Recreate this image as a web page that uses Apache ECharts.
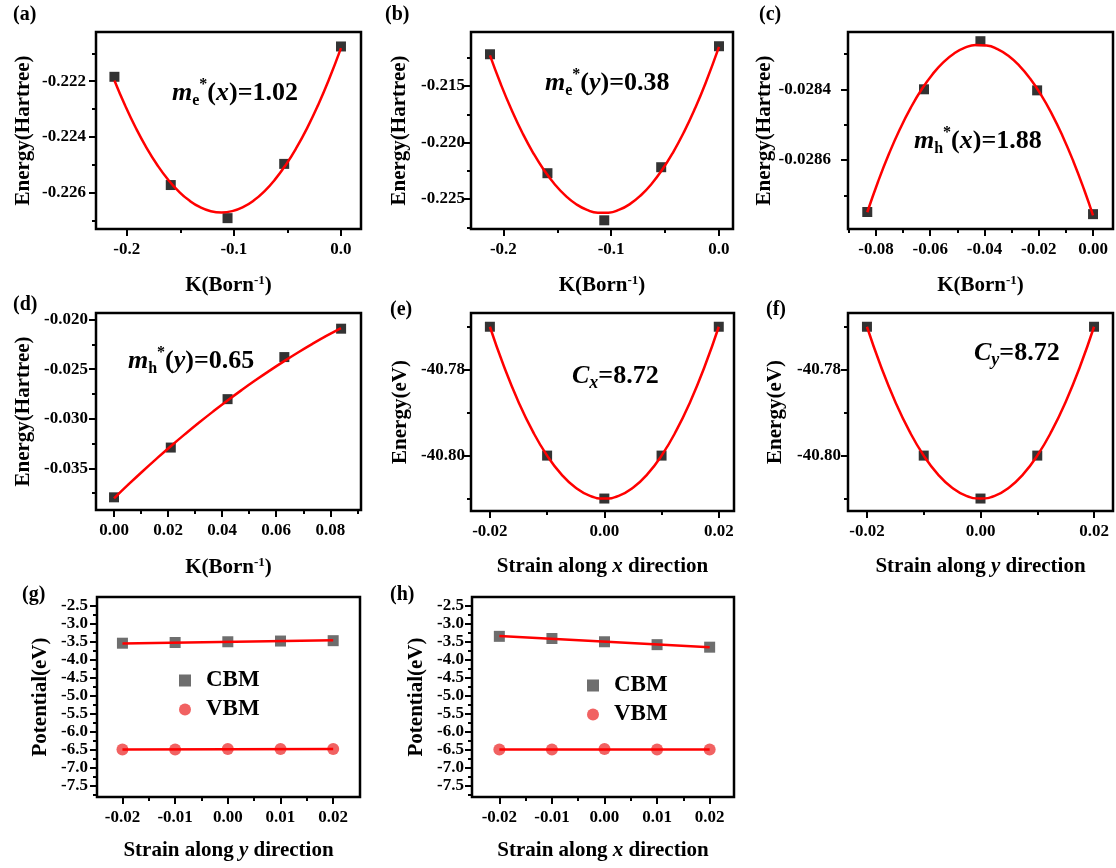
<!DOCTYPE html>
<html>
<head>
<meta charset="utf-8">
<script src="https://cdn.jsdelivr.net/npm/echarts@6/dist/echarts.min.js"></script>
<style>
  html, body { margin: 0; padding: 0; background: #fff; }
  #chart { width: 1116px; height: 868px; }
</style>
</head>
<body>
<div id="chart"></div>
<script>
var FONT = '"Liberation Serif", "Times New Roman", serif';

// (a) electron, x direction
var kA = [-0.2115, -0.1589, -0.1059, -0.0530, 0];
var eA = [-0.22184, -0.22573, -0.22692, -0.22497, -0.22075];
var fitKA = [-0.2115, -0.2015, -0.1915, -0.1815, -0.1715, -0.1615, -0.1515, -0.1415, -0.1315, -0.1215, -0.1115,
  -0.1015, -0.0915, -0.0815, -0.0715, -0.0615, -0.0515, -0.0415, -0.0315, -0.0215, -0.0115, 0];
var fitEA = [-0.221970, -0.222872, -0.223679, -0.224391, -0.225008, -0.225530, -0.225957, -0.226289, -0.226527, -0.226669, -0.226716,
  -0.226668, -0.226525, -0.226288, -0.225955, -0.225527, -0.225005, -0.224387, -0.223674, -0.222867, -0.221964, -0.220809];

// (b) electron, y direction
var kB = [-0.2124, -0.1591, -0.1064, -0.0536, 0];
var eB = [-0.21218, -0.22271, -0.22688, -0.22218, -0.21147];
var fitKB = [-0.2124, -0.2024, -0.1924, -0.1824, -0.1724, -0.1624, -0.1524, -0.1424, -0.1324, -0.1224, -0.1124,
  -0.1024, -0.0924, -0.0824, -0.0724, -0.0624, -0.0524, -0.0424, -0.0324, -0.0224, -0.0124, 0];
var fitEB = [-0.212282, -0.214818, -0.217099, -0.219127, -0.220900, -0.222420, -0.223685, -0.224697, -0.225454, -0.225957, -0.226206,
  -0.226201, -0.225942, -0.225428, -0.224661, -0.223640, -0.222364, -0.220834, -0.219051, -0.217013, -0.214721, -0.211526];

// (c) hole, x direction
var kC = [-0.0832, -0.0623, -0.0415, -0.0206, 0];
var eC = [-0.028747, -0.028400, -0.028264, -0.028403, -0.028753];
var fitKC = [-0.0832, -0.0792, -0.0752, -0.0712, -0.0672, -0.0632, -0.0592, -0.0552, -0.0512, -0.0472, -0.0432,
  -0.0392, -0.0352, -0.0312, -0.0272, -0.0232, -0.0192, -0.0152, -0.0112, -0.0072, -0.0032, 0];
var fitEC = [-0.0287476, -0.0286606, -0.0285824, -0.0285130, -0.0284525, -0.0284007, -0.0283579, -0.0283238, -0.0282986, -0.0282823, -0.0282748,
  -0.0282761, -0.0282862, -0.0283052, -0.0283330, -0.0283696, -0.0284151, -0.0284694, -0.0285326, -0.0286046, -0.0286854, -0.0287564];

// (d) hole, y direction
var kD = [0, 0.0210, 0.0420, 0.0630, 0.0840];
var eD = [-0.037933, -0.032910, -0.028022, -0.023775, -0.020910];
var fitKD = [0, 0.005247, 0.010494, 0.015741, 0.020988, 0.026234, 0.031481, 0.036728, 0.041975,
  0.047222, 0.052469, 0.057716, 0.062963, 0.068209, 0.073456, 0.078703, 0.083950];
var fitED = [-0.038034, -0.036659, -0.035323, -0.034030, -0.032775, -0.031561, -0.030386, -0.029252, -0.028157,
  -0.027103, -0.026089, -0.025114, -0.024180, -0.023285, -0.022431, -0.021617, -0.020843];

// (e), (f) total energy vs strain
var strain = [-0.02, -0.01, 0, 0.01, 0.02];
var energyX = [-40.770, -40.800, -40.810, -40.800, -40.770];
var energyY = [-40.770, -40.800, -40.810, -40.800, -40.770];
var fitStrain = [-0.02, -0.0175, -0.015, -0.0125, -0.01, -0.0075, -0.005, -0.0025, 0,
  0.0025, 0.005, 0.0075, 0.01, 0.0125, 0.015, 0.0175, 0.02];
var fitEnergyX = [-40.770, -40.779375, -40.7875, -40.794375, -40.800, -40.804375, -40.8075, -40.809375, -40.810,
  -40.809375, -40.8075, -40.804375, -40.800, -40.794375, -40.7875, -40.779375, -40.770];
var fitEnergyY = [-40.770, -40.779375, -40.7875, -40.794375, -40.800, -40.804375, -40.8075, -40.809375, -40.810,
  -40.809375, -40.8075, -40.804375, -40.800, -40.794375, -40.7875, -40.779375, -40.770];

// (g), (h) band edges vs strain
var cbmG = [-3.55, -3.53, -3.51, -3.49, -3.48];
var vbmG = [-6.50, -6.50, -6.48, -6.48, -6.48];
var cbmH = [-3.36, -3.42, -3.51, -3.59, -3.66];
var vbmH = [-6.50, -6.50, -6.48, -6.50, -6.50];
var fitStrainLin = [-0.02, 0.02];
var cbmFitG = [-3.56, -3.47];
var vbmFitG = [-6.50, -6.48];
var cbmFitH = [-3.35, -3.66];
var vbmFitH = [-6.50, -6.50];

// tick labels
var tickKab = [-0.2, -0.1, 0];
var minorKab = [-0.15, -0.05];
var tickEa = [-0.226, -0.224, -0.222];
var minorEa = [-0.227, -0.225, -0.223, -0.221];
var tickEb = [-0.225, -0.220, -0.215];
var minorEb = [-0.2275, -0.2225, -0.2175, -0.2125];
var tickKc = [-0.08, -0.06, -0.04, -0.02, 0];
var minorKc = [-0.09, -0.07, -0.05, -0.03, -0.01];
var tickEc = [-0.0286, -0.0284];
var minorEc = [-0.0287, -0.0285, -0.0283];
var tickKd = [0, 0.02, 0.04, 0.06, 0.08];
var minorKd = [0.01, 0.03, 0.05, 0.07, 0.09];
var tickEd = [-0.035, -0.030, -0.025, -0.020];
var minorEd = [-0.0375, -0.0325, -0.0275, -0.0225];
var tickStrainEF = [-0.02, 0, 0.02];
var minorStrainEF = [-0.01, 0.01];
var tickEef = [-40.80, -40.78];
var minorEef = [-40.81, -40.79, -40.77];
var tickStrainGH = [-0.02, -0.01, 0, 0.01, 0.02];
var minorStrainGH = [-0.015, -0.005, 0.005, 0.015];
var tickPot = [-7.5, -7.0, -6.5, -6.0, -5.5, -5.0, -4.5, -4.0, -3.5, -3.0, -2.5];
var minorPot = [-7.75, -7.25, -6.75, -6.25, -5.75, -5.25, -4.75, -4.25, -3.75, -3.25, -2.75];

function zip(xs, ys) {
  return xs.map(function (x, i) { return [x, ys[i]]; });
}

var nameRich = {
  b: { fontFamily: FONT, fontWeight: 'bold', fontSize: 21, color: '#000', lineHeight: 24 },
  i: { fontFamily: FONT, fontWeight: 'bold', fontStyle: 'italic', fontSize: 21, color: '#000', lineHeight: 24 },
  p: { fontFamily: FONT, fontWeight: 'bold', fontSize: 13, color: '#000', verticalAlign: 'top', lineHeight: 13 }
};
var NAME_K = '{b|K(Born}{p|-1}{b|)}';
var NAME_SX = '{b|Strain along }{i|x}{b| direction}';
var NAME_SY = '{b|Strain along }{i|y}{b| direction}';

function dots(xs, ys) {
  return { type: 'scatter', symbol: 'rect', symbolSize: 10, itemStyle: { color: '#000' }, data: zip(xs, ys), z: 2 };
}
function fit(xs, ys, smooth) {
  return { type: 'line', smooth: smooth, symbol: 'none', lineStyle: { color: '#ff0000', width: 2.5 }, data: zip(xs, ys), z: 3 };
}

var panels = [
  { box: [96, 32, 265, 197], xr: [-0.2287, 0.0187], yr: [-0.22731, -0.22023],
    xt: tickKab, xm: minorKab, xd: 1, yt: tickEa, ym: minorEa, yd: 3, yMargin: 10,
    xName: NAME_K, xGap: 45, yName: 'Energy(Hartree)', yGap: 62,
    series: [dots(kA, eA), fit(fitKA, fitEA, true)] },
  { box: [471, 32, 262, 197], xr: [-0.230, 0.0130], yr: [-0.22765, -0.21021],
    xt: tickKab, xm: minorKab, xd: 1, yt: tickEb, ym: minorEb, yd: 3, yMargin: 6,
    xName: NAME_K, xGap: 45, yName: 'Energy(Hartree)', yGap: 61,
    series: [dots(kB, eB), fit(fitKB, fitEB, true)] },
  { box: [848, 32, 265, 197], xr: [-0.0903, 0.00736], yr: [-0.028795, -0.028238],
    xt: tickKc, xm: minorKc, xd: 2, yt: tickEc, ym: minorEc, yd: 4, yMargin: 17,
    xName: NAME_K, xGap: 45, yName: 'Energy(Hartree)', yGap: 70,
    series: [dots(kC, eC), fit(fitKC, fitEC, true)] },
  { box: [96, 313, 265, 197], xr: [-0.00667, 0.09136], yr: [-0.039213, -0.019326],
    xt: tickKd, xm: minorKd, xd: 2, yt: tickEd, ym: minorEd, yd: 3, yMargin: 8,
    xName: NAME_K, xGap: 46, yName: 'Energy(Hartree)', yGap: 62,
    series: [dots(kD, eD), fit(fitKD, fitED, true)] },
  { box: [471, 313, 263, 198], xr: [-0.0233, 0.02266], yr: [-40.8129, -40.7668],
    xt: tickStrainEF, xm: minorStrainEF, xd: 2, yt: tickEef, ym: minorEef, yd: 2, yMargin: 6,
    xName: NAME_SX, xGap: 44, yName: 'Energy(eV)', yGap: 60,
    series: [dots(strain, energyX), fit(fitStrain, fitEnergyX, true)] },
  { box: [848, 313, 265, 198], xr: [-0.02334, 0.02334], yr: [-40.8129, -40.7668],
    xt: tickStrainEF, xm: minorStrainEF, xd: 2, yt: tickEef, ym: minorEef, yd: 2, yMargin: 7,
    xName: NAME_SY, xGap: 44, yName: 'Energy(eV)', yGap: 62,
    series: [dots(strain, energyY), fit(fitStrain, fitEnergyY, true)] },
  { box: [97, 597, 263, 200], xr: [-0.02483, 0.02509], yr: [-7.814, -2.269],
    xt: tickStrainGH, xm: minorStrainGH, xd: 2, yt: tickPot, ym: minorPot, yd: 1, yMargin: 9,
    xName: NAME_SY, xGap: 42, yName: 'Potential(eV)', yGap: 46,
    series: [
      { name: 'CBM', type: 'scatter', symbol: 'rect', symbolSize: 11, itemStyle: { color: '#4a4a4a' }, data: zip(strain, cbmG), z: 2 },
      { name: 'VBM', type: 'scatter', symbol: 'circle', symbolSize: 12, itemStyle: { color: '#ee3b3b' }, data: zip(strain, vbmG), z: 2 },
      fit(fitStrainLin, cbmFitG, false), fit(fitStrainLin, vbmFitG, false)] },
  { box: [472, 597, 262, 200], xr: [-0.0252, 0.02463], yr: [-7.814, -2.269],
    xt: tickStrainGH, xm: minorStrainGH, xd: 2, yt: tickPot, ym: minorPot, yd: 1, yMargin: 8,
    xName: NAME_SX, xGap: 42, yName: 'Potential(eV)', yGap: 45,
    series: [
      { name: 'CBM', type: 'scatter', symbol: 'rect', symbolSize: 11, itemStyle: { color: '#4a4a4a' }, data: zip(strain, cbmH), z: 2 },
      { name: 'VBM', type: 'scatter', symbol: 'circle', symbolSize: 12, itemStyle: { color: '#ee3b3b' }, data: zip(strain, vbmH), z: 2 },
      fit(fitStrainLin, cbmFitH, false), fit(fitStrainLin, vbmFitH, false)] }
];

function mainAxis(gi, pos, range, ticks, dec, margin, name, gap) {
  return {
    type: 'value', gridIndex: gi, position: pos, offset: 0, min: range[0], max: range[1],
    axisLine: { show: true, onZero: false, lineStyle: { color: '#000', width: 2 } },
    axisTick: { show: true, customValues: ticks, length: 7, lineStyle: { color: '#000', width: 2 } },
    axisLabel: {
      show: true, customValues: ticks, margin: margin, color: '#000',
      fontFamily: FONT, fontWeight: 'bold', fontSize: 17,
      formatter: function (v) { return v.toFixed(dec); }
    },
    splitLine: { show: false },
    name: name, nameLocation: 'middle', nameGap: gap,
    nameTextStyle: { color: '#000', fontFamily: FONT, fontWeight: 'bold', fontSize: 21, rich: nameRich }
  };
}
function minorAxis(gi, pos, range, ticks) {
  return {
    type: 'value', gridIndex: gi, position: pos, offset: 0, min: range[0], max: range[1],
    axisLine: { show: false, onZero: false },
    axisTick: { show: true, customValues: ticks, length: 4, lineStyle: { color: '#000', width: 2 } },
    axisLabel: { show: false },
    splitLine: { show: false }
  };
}

var option = { animation: false, backgroundColor: '#fff', grid: [], xAxis: [], yAxis: [], series: [], legend: [], graphic: [] };

panels.forEach(function (p, i) {
  option.grid.push({ left: p.box[0], top: p.box[1], width: p.box[2], height: p.box[3], show: true, borderColor: '#000', borderWidth: 2.5 });
  option.xAxis.push(mainAxis(i, 'bottom', p.xr, p.xt, p.xd, 12, p.xName, p.xGap));
  option.xAxis.push(minorAxis(i, 'bottom', p.xr, p.xm));
  option.yAxis.push(mainAxis(i, 'left', p.yr, p.yt, p.yd, p.yMargin, p.yName, p.yGap));
  option.yAxis.push(minorAxis(i, 'left', p.yr, p.ym));
  p.series.forEach(function (s) {
    s.xAxisIndex = 2 * i;
    s.yAxisIndex = 2 * i;
    option.series.push(s);
  });
});

// legends for (g) and (h)
[[179, 669], [587, 674]].forEach(function (pos) {
  option.legend.push({
    left: pos[0], top: pos[1], padding: 0, orient: 'vertical', itemGap: 6, itemWidth: 12, itemHeight: 12,
    selectedMode: false, data: ['CBM', 'VBM'],
    textStyle: { color: '#000', fontFamily: FONT, fontWeight: 'bold', fontSize: 23, padding: [0, 0, 0, 10] }
  });
});

// panel letters
var letters = ['(a)', '(b)', '(c)', '(d)', '(e)', '(f)', '(g)', '(h)'];
var letterPos = [[13, 15], [385, 15], [759, 15], [13, 305], [390, 310], [766, 310], [22, 595], [390, 595]];
letters.forEach(function (t, i) {
  option.graphic.push({
    type: 'text', x: letterPos[i][0], y: letterPos[i][1],
    style: { text: t, fill: '#000', font: 'bold 20px ' + FONT, align: 'left', verticalAlign: 'middle' }
  });
});

// fitted parameter annotations
var annRich = {
  m: { fontFamily: FONT, fontWeight: 'bold', fontStyle: 'italic', fontSize: 26, lineHeight: 32, fill: '#000' },
  n: { fontFamily: FONT, fontWeight: 'bold', fontSize: 26, lineHeight: 32, fill: '#000' },
  s: { fontFamily: FONT, fontWeight: 'bold', fontSize: 16, verticalAlign: 'bottom', lineHeight: 16, fill: '#000' },
  si: { fontFamily: FONT, fontWeight: 'bold', fontStyle: 'italic', fontSize: 18, verticalAlign: 'bottom', lineHeight: 18, fill: '#000' },
  p: { fontFamily: FONT, fontWeight: 'bold', fontSize: 16, verticalAlign: 'top', lineHeight: 16, fill: '#000' }
};
var annotations = [
  ['{m|m}{s|e}{p|*}{n|(}{m|x}{n|)=1.02}', 172, 93],
  ['{m|m}{s|e}{p|*}{n|(}{m|y}{n|)=0.38}', 545, 83],
  ['{m|m}{s|h}{p|*}{n|(}{m|x}{n|)=1.88}', 914, 141],
  ['{m|m}{s|h}{p|*}{n|(}{m|y}{n|)=0.65}', 128, 361],
  ['{m|C}{si|x}{n|=8.72}', 572, 376],
  ['{m|C}{si|y}{n|=8.72}', 974, 353]
];
annotations.forEach(function (a) {
  option.graphic.push({
    type: 'text', x: a[1], y: a[2],
    style: { text: a[0], rich: annRich, align: 'left', verticalAlign: 'middle', fill: '#000' }
  });
});

var chart = echarts.init(document.getElementById('chart'));
chart.setOption(option);
</script>
</body>
</html>
